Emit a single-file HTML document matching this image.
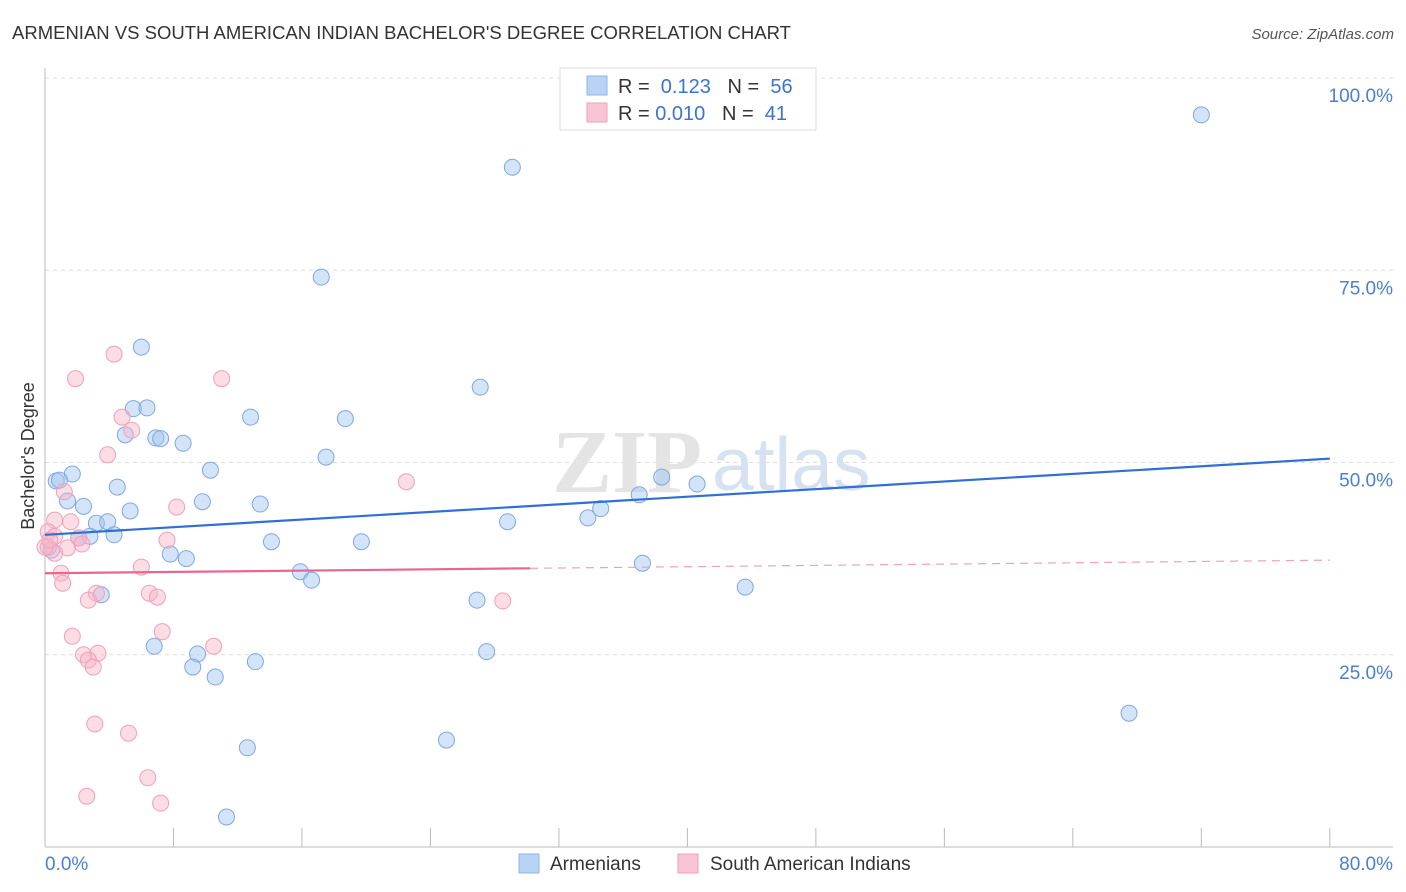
<!DOCTYPE html>
<html><head><meta charset="utf-8"><style>
body{margin:0;background:#fff;font-family:"Liberation Sans",sans-serif}
svg{display:block}
</style></head><body>
<svg id="chart" width="1406" height="892">
<text x="12" y="39" font-size="18.5" fill="#333">ARMENIAN VS SOUTH AMERICAN INDIAN BACHELOR'S DEGREE CORRELATION CHART</text>
<text x="1394" y="39" font-size="15" fill="#555" font-style="italic" text-anchor="end">Source: ZipAtlas.com</text>
<g id="grid"></g>
<g><text x="552" y="492" font-size="90" font-family="Liberation Serif" fill="#e4e4e4" font-weight="bold">ZIP</text><text x="712" y="490" font-size="75" fill="#d6e2f2">atlas</text></g>
<g id="axes"></g>
<g id="pts"></g>
<g id="trends"></g>
<text x="34" y="456" font-size="18" fill="#333" text-anchor="middle" transform="rotate(-90 34 456)">Bachelor's Degree</text>
<text x="45" y="870" font-size="19" fill="#4a7fd4">0.0%</text>
<text x="1393" y="870" font-size="19" fill="#4a7fd4" text-anchor="end">80.0%</text>
<g>
<rect x="560" y="68" width="256" height="62" fill="#fff" stroke="#ddd"/>
<rect x="587" y="76" width="20" height="19" fill="#b9d3f5" stroke="#8fb5e8"/>
<rect x="587" y="103" width="20" height="19" fill="#f9c4d3" stroke="#f0a0b8"/>
<text x="618" y="93" font-size="20" fill="#333">R = <tspan fill="#3b73d1">&#160;0.123</tspan>&#160;&#160;&#160;N = <tspan fill="#3b73d1">&#160;56</tspan></text>
<text x="618" y="120" font-size="20" fill="#333">R = <tspan fill="#3b73d1">0.010</tspan>&#160;&#160;&#160;N = <tspan fill="#3b73d1">&#160;41</tspan></text>
</g>
<g>
<rect x="519" y="854" width="20" height="19" fill="#b9d3f5" stroke="#8fb5e8"/>
<text x="550" y="870" font-size="19" fill="#333">Armenians</text>
<rect x="678" y="854" width="20" height="19" fill="#f9c4d3" stroke="#f0a0b8"/>
<text x="710" y="870" font-size="19" fill="#333">South American Indians</text>
</g>
</svg>
<script>
const blueX=[72.0,29.1,17.2,6.0,27.1,5.5,6.35,12.8,18.7,5.0,6.9,7.2,8.6,17.5,10.3,1.7,0.7,0.9,4.5,37.0,38.4,40.6,1.4,9.8,13.4,2.4,5.3,34.6,33.8,3.2,3.9,28.8,4.3,2.8,2.1,14.1,19.7,0.4,7.8,8.8,37.2,15.9,16.6,3.5,26.9,43.6,6.8,27.5,9.5,9.2,13.1,10.6,67.5,25.0,12.6,11.3];
const blueY=[95.2,88.4,74.1,65.0,59.8,57.0,57.1,55.9,55.7,53.6,53.2,53.1,52.5,50.7,49.0,48.5,47.6,47.7,46.8,45.8,48.1,47.2,45.0,44.9,44.6,44.3,43.7,44.0,42.8,42.1,42.3,42.3,40.6,40.4,40.2,39.7,39.7,38.6,38.1,37.5,36.9,35.8,34.7,32.8,32.1,33.8,26.1,25.4,25.1,23.4,24.1,22.1,17.4,13.9,12.9,3.9];
const pinkX=[4.3,1.9,11.0,4.8,5.4,3.9,22.5,1.2,8.2,0.6,1.6,0.2,0.6,2.1,2.3,1.4,0.6,0.2,7.6,6.0,1.0,1.1,3.2,2.7,6.5,7.0,7.3,1.7,10.5,2.4,3.3,2.7,3.0,28.5,3.1,5.2,6.4,2.6,7.2,0.0,0.3];
const pinkY=[64.1,60.9,60.9,55.9,54.2,51.0,47.5,46.2,44.2,42.5,42.3,41.0,40.4,40.2,39.4,38.9,38.2,39.0,39.9,36.4,35.6,34.3,33.0,32.1,33.0,32.5,28.0,27.4,26.1,25.0,25.2,24.3,23.4,32.0,16.0,14.8,9.0,6.6,5.7,39.0,39.9];
const blueTrend=[40.6,50.5];
const pinkTrend=[35.6,37.3];
const pinkSolidEnd=30.2;
const yTicks=[25,50,75,100];
const yTickLabels=["25.0%","50.0%","75.0%","100.0%"];
const xTicks=[0,8,16,24,32,40,48,56,64,72,80];
const NS="http://www.w3.org/2000/svg";
const X=v=>45+v*16.06, Y=v=>847-v*7.69;
function mk(p,t,a){const e=document.createElementNS(NS,t);for(const k in a)e.setAttribute(k,a[k]);p.appendChild(e);return e;}
const grid=document.getElementById('grid'),axes=document.getElementById('axes'),pts=document.getElementById('pts'),tr=document.getElementById('trends');
yTicks.forEach((v,i)=>{
 const l=mk(grid,'line',{x1:45,x2:1393,y1:Y(v),y2:Y(v),stroke:'#ddd','stroke-dasharray':'4,4'});
 
 
 const t=mk(grid,'text',{x:1393,y:Y(v)+24,'font-size':19,fill:'#4a7fd4','text-anchor':'end'});
 t.textContent=yTickLabels[i];
 
 
});
const xa=mk(axes,'line',{x1:45,x2:1393,y1:847,y2:847,stroke:'#bbb'});


const ya=mk(axes,'line',{x1:45,x2:45,y1:68,y2:847,stroke:'#bbb'});


xTicks.forEach(v=>{
 const t=mk(axes,'line',{x1:X(v),x2:X(v),y1:828,y2:847,stroke:'#bbb'});
 
 
});
blueX.forEach((v,i)=>{
 const c=mk(pts,'circle',{cx:X(v),cy:Y(blueY[i]),r:8,fill:'rgba(160,196,240,0.45)',stroke:'#7fa8e0','stroke-width':1});
 
 
});
pinkX.forEach((v,i)=>{
 const c=mk(pts,'circle',{cx:X(v),cy:Y(pinkY[i]),r:8,fill:'rgba(248,180,200,0.45)',stroke:'#f0a0b8','stroke-width':1});
 
 
});
const b=mk(tr,'line',{x1:X(0),y1:Y(blueTrend[0]),x2:X(80),y2:Y(blueTrend[1]),stroke:'#2f6fd6','stroke-width':2.2});


const pAt=x=>pinkTrend[0]+(pinkTrend[1]-pinkTrend[0])*x/80;
const p1=mk(tr,'line',{x1:X(0),y1:Y(pinkTrend[0]),x2:X(pinkSolidEnd),y2:Y(pAt(pinkSolidEnd)),stroke:'#e8678f','stroke-width':2.2});


const p2=mk(tr,'line',{x1:X(pinkSolidEnd),y1:Y(pAt(pinkSolidEnd)),x2:X(80),y2:Y(pinkTrend[1]),stroke:'#f0a0b8','stroke-width':1.2,'stroke-dasharray':'8,6'});


</script>
</body></html>
